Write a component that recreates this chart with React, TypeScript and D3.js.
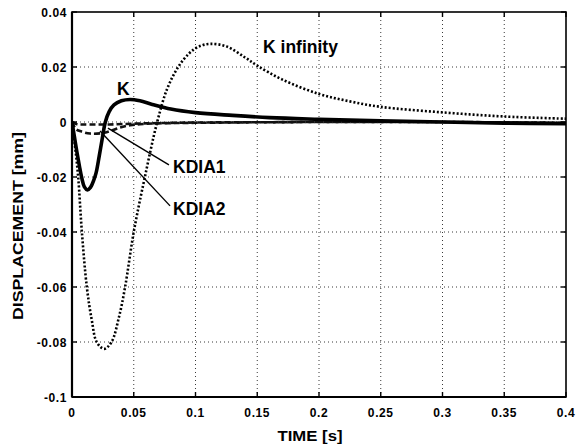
import React from "react";
import * as d3 from "d3";

const xTicks = [0, 0.05, 0.1, 0.15, 0.2, 0.25, 0.3, 0.35, 0.4];
const xTickLabels = ["0", "0.05", "0.1", "0.15", "0.2", "0.25", "0.3", "0.35", "0.4"];
const yTicks = [0.04, 0.02, 0, -0.02, -0.04, -0.06, -0.08, -0.1];
const yTickLabels = ["0.04", "0.02", "0", "-0.02", "-0.04", "-0.06", "-0.08", "-0.1"];

const kTime = [0, 0.002, 0.004, 0.006, 0.008, 0.01, 0.0125, 0.015, 0.0175, 0.0195, 0.022, 0.0245, 0.027, 0.03, 0.034, 0.04, 0.047, 0.055, 0.065, 0.08, 0.1, 0.13, 0.16, 0.2, 0.25, 0.3, 0.35, 0.4];
const kValue = [0, -0.0055, -0.011, -0.016, -0.0205, -0.0236, -0.0247, -0.0238, -0.0213, -0.0185, -0.0125, -0.006, 0, 0.0037, 0.0062, 0.0077, 0.0082, 0.0077, 0.0064, 0.0047, 0.0034, 0.0024, 0.0016, 0.001, 0.0004, 0, -0.0004, -0.0006];

const kInfTime = [0, 0.0025, 0.005, 0.008, 0.012, 0.016, 0.02, 0.026, 0.032, 0.038, 0.043, 0.05, 0.059, 0.069, 0.077, 0.086, 0.095, 0.103, 0.112, 0.125, 0.14, 0.15, 0.17, 0.2, 0.225, 0.25, 0.3, 0.35, 0.4];
const kInfValue = [0, -0.009, -0.02, -0.04, -0.06, -0.072, -0.08, -0.0825, -0.08, -0.071, -0.06, -0.04, -0.02, 0, 0.012, 0.02, 0.025, 0.0275, 0.0284, 0.0275, 0.0235, 0.0205, 0.0155, 0.0102, 0.0075, 0.0055, 0.0035, 0.002, 0.0012];

const kdia1Time = [0, 0.004, 0.01, 0.03, 0.05, 0.07, 0.1, 0.15, 0.2, 0.3, 0.4];
const kdia1Value = [0, -0.0008, -0.0009, -0.0009, -0.0006, -0.0004, -0.0002, -0.0001, 0, 0, -0.0003];

const kdia2Time = [0, 0.003, 0.0065, 0.0146, 0.025, 0.032, 0.039, 0.047, 0.055, 0.07, 0.1, 0.15, 0.2, 0.3, 0.4];
const kdia2Value = [0, -0.0025, -0.0033, -0.0042, -0.004, -0.0031, -0.002, -0.0012, -0.0008, -0.0005, -0.0003, -0.0001, 0, 0, -0.0004];

const labelNames = ["K", "K infinity", "KDIA1", "KDIA2"];
const labelX = [0.0364, 0.1547, 0.0818, 0.0818];
const labelY = [0.0098, 0.0251, -0.0185, -0.0338];

const leaderStartX = [0.0291, 0.0227];
const leaderStartY = [-0.0022, -0.0033];
const leaderEndX = [0.0785, 0.0794];
const leaderEndY = [-0.0156, -0.0305];

const W = 576;
const H = 447;
const FONT = "'Liberation Sans', Arial, Helvetica, sans-serif";

export default function App() {
  const x = d3.scaleLinear().domain([0, 0.4]).range([72, 566]);
  const y = d3.scaleLinear().domain([-0.1, 0.04]).range([397, 12]);
  const [x0, x1] = x.range();
  const [y0, y1] = y.range();

  const line = (ts: number[], vs: number[]) =>
    d3
      .line<number>()
      .x((_, i) => x(ts[i]))
      .y((v) => y(v))
      .curve(d3.curveCatmullRom.alpha(0.5))(vs) || "";

  const tickLen = 5;

  return (
    <svg
      width={W}
      height={H}
      viewBox={`0 0 ${W} ${H}`}
      style={{ position: "absolute", left: 0, top: 0, background: "#fff" }}
      fontFamily={FONT}
    >
      <defs>
        <clipPath id="plot">
          <rect x={x0} y={y1} width={x1 - x0} height={y0 - y1} />
        </clipPath>
      </defs>
      <rect x={0} y={0} width={W} height={H} fill="#fff" />
      {/* grid */}
      <g stroke="#222" strokeWidth={0.9} strokeDasharray="1,3">
        {xTicks.slice(1, -1).map((t) => (
          <line key={"gx" + t} x1={x(t)} x2={x(t)} y1={y1} y2={y0} />
        ))}
        {yTicks.slice(1, -1).map((t) => (
          <line key={"gy" + t} x1={x0} x2={x1} y1={y(t)} y2={y(t)} />
        ))}
      </g>
      {/* curves */}
      <g clipPath="url(#plot)" fill="none">
        <path d={line(kInfTime, kInfValue)} stroke="#000" strokeWidth={2.6} strokeDasharray="2,2" />
        <path d={line(kdia1Time, kdia1Value)} stroke="#111" strokeWidth={2.6} strokeDasharray="6,3" />
        <path d={line(kdia2Time, kdia2Value)} stroke="#111" strokeWidth={2.6} strokeDasharray="6,3" />
        <path d={line(kTime, kValue)} stroke="#000" strokeWidth={3.6} strokeLinejoin="round" />
      </g>
      {/* leaders */}
      <g stroke="#000" strokeWidth={1.4}>
        {leaderStartX.map((sx, i) => (
          <line
            key={"ld" + i}
            x1={x(sx)}
            y1={y(leaderStartY[i])}
            x2={x(leaderEndX[i])}
            y2={y(leaderEndY[i])}
          />
        ))}
      </g>
      {/* frame */}
      <rect x={x0} y={y1} width={x1 - x0} height={y0 - y1} fill="none" stroke="#000" strokeWidth={1.6} />
      <line x1={x0} x2={x0} y1={y1} y2={y0} stroke="#000" strokeWidth={2.2} />
      <line x1={x0} x2={x1} y1={y0} y2={y0} stroke="#000" strokeWidth={2.2} />
      {/* ticks */}
      <g stroke="#000" strokeWidth={1.4}>
        {xTicks.map((t) => (
          <g key={"tx" + t}>
            <line x1={x(t)} x2={x(t)} y1={y0} y2={y0 - tickLen} />
            <line x1={x(t)} x2={x(t)} y1={y1} y2={y1 + tickLen} />
          </g>
        ))}
        {yTicks.map((t) => (
          <g key={"ty" + t}>
            <line x1={x0} x2={x0 + tickLen} y1={y(t)} y2={y(t)} />
            <line x1={x1} x2={x1 - tickLen} y1={y(t)} y2={y(t)} />
          </g>
        ))}
      </g>
      {/* tick labels */}
      <g fontSize={12} fontWeight="bold" fill="#000" letterSpacing={0.6}>
        {xTicks.map((t, i) => (
          <text key={"lx" + t} x={x(t)} y={417} textAnchor="middle">
            {xTickLabels[i]}
          </text>
        ))}
        {yTicks.map((t, i) => (
          <text key={"ly" + t} x={x0 - 5} y={y(t) + 4.5} textAnchor="end">
            {yTickLabels[i]}
          </text>
        ))}
      </g>
      {/* axis titles */}
      <text x={310} y={441} fontSize={15} fontWeight="bold" textAnchor="middle" textLength={65} lengthAdjust="spacingAndGlyphs">
        TIME [s]
      </text>
      <text
        transform="translate(23,226) rotate(-90)"
        fontSize={14}
        fontWeight="bold"
        textAnchor="middle"
        textLength={188}
        lengthAdjust="spacingAndGlyphs"
      >
        DISPLACEMENT [mm]
      </text>
      {/* curve labels */}
      <g fontSize={17.5} fontWeight="bold" fill="#000">
        {labelNames.map((n, i) => (
          <text key={"cl" + n} x={x(labelX[i])} y={y(labelY[i])}>
            {n}
          </text>
        ))}
      </g>
    </svg>
  );
}
